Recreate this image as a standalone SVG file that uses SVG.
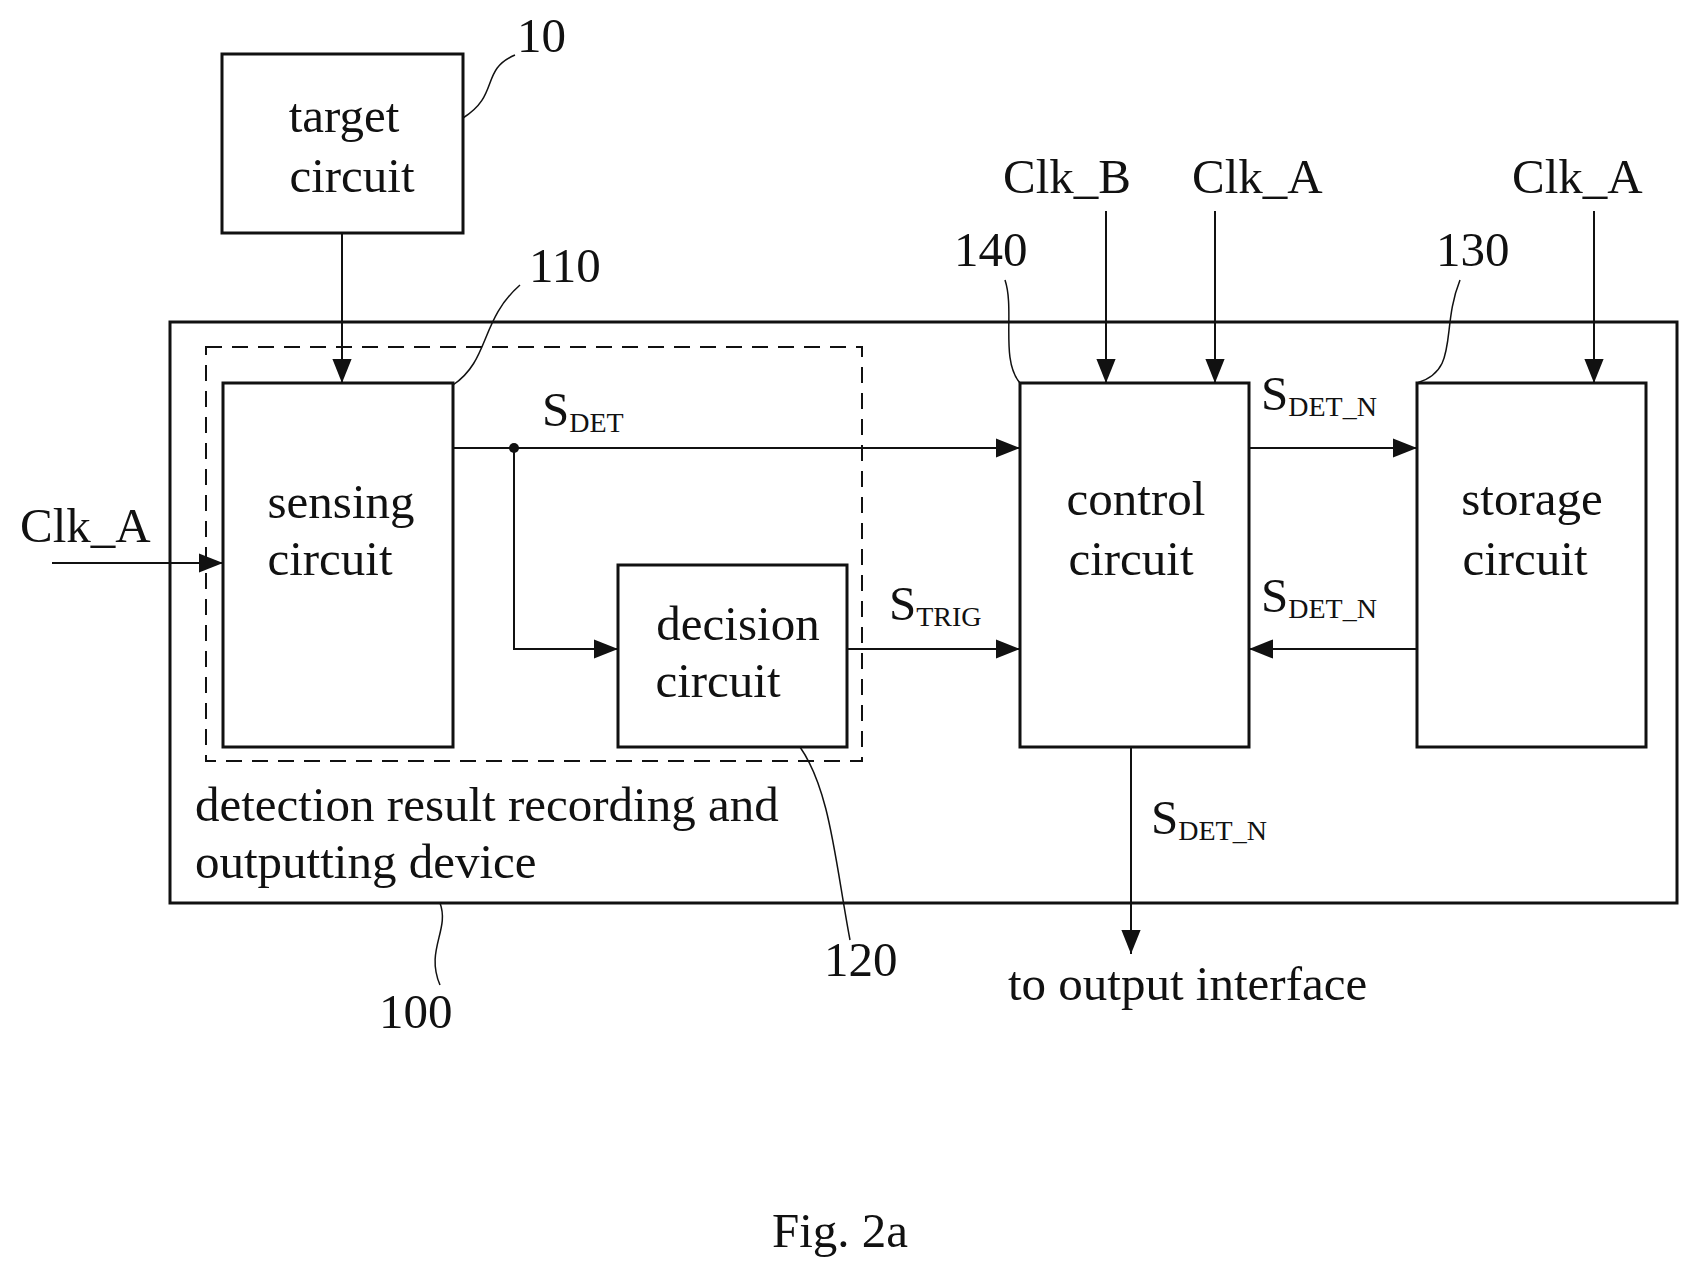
<svg xmlns="http://www.w3.org/2000/svg" width="1691" height="1277" viewBox="0 0 1691 1277">
<style>
text{font-family:"Liberation Serif",serif;font-size:49px;fill:#111}
.sub{font-size:28px}
.box{fill:none;stroke:#111;stroke-width:3}
.ln{fill:none;stroke:#111;stroke-width:2}
.ld{fill:none;stroke:#111;stroke-width:1.5}
</style>
<defs><marker id="b" viewBox="0 0 10 10" refX="10" refY="5" markerWidth="24" markerHeight="24" markerUnits="userSpaceOnUse" orient="auto"><path d="M0,1L10,5L0,9z" fill="#111"/></marker></defs>
<g id="outer"><rect class="box" x="170" y="322" width="1507" height="581"/><text x="195" y="821">detection result recording and</text><text x="195" y="878">outputting device</text></g>
<g id="dashed"><rect x="206" y="347" width="656" height="414" fill="none" stroke="#111" stroke-width="2" stroke-dasharray="16,10"/></g>
<g id="target"><rect class="box" x="222" y="54" width="241" height="179"/><text x="344" y="132" text-anchor="middle">target</text><text x="352" y="192" text-anchor="middle">circuit</text></g>
<g id="sensing"><rect class="box" x="223" y="383" width="230" height="364"/><text x="341" y="518" text-anchor="middle">sensing</text><text x="330" y="575" text-anchor="middle">circuit</text></g>
<g id="decision"><rect class="box" x="618" y="565" width="229" height="182"/><text x="738" y="640" text-anchor="middle">decision</text><text x="718" y="697" text-anchor="middle">circuit</text></g>
<g id="control"><rect class="box" x="1020" y="383" width="229" height="364"/><text x="1136" y="515" text-anchor="middle">control</text><text x="1131" y="575" text-anchor="middle">circuit</text></g>
<g id="storage"><rect class="box" x="1417" y="383" width="229" height="364"/><text x="1532" y="515" text-anchor="middle">storage</text><text x="1525" y="575" text-anchor="middle">circuit</text></g>
<g id="connectors">
<path class="ln" d="M342,233V383" marker-end="url(#b)"/>
<path class="ln" d="M52,563H223" marker-end="url(#b)"/>
<path class="ln" d="M453,448H1020" marker-end="url(#b)"/>
<circle cx="514" cy="448" r="5" fill="#111"/>
<path class="ln" d="M514,448V649H618" marker-end="url(#b)"/>
<path class="ln" d="M847,649H1020" marker-end="url(#b)"/>
<path class="ln" d="M1249,448H1417" marker-end="url(#b)"/>
<path class="ln" d="M1417,649H1249" marker-end="url(#b)"/>
<path class="ln" d="M1106,211V383" marker-end="url(#b)"/>
<path class="ln" d="M1215,211V383" marker-end="url(#b)"/>
<path class="ln" d="M1594,211V383" marker-end="url(#b)"/>
<path class="ln" d="M1131,747V954" marker-end="url(#b)"/>
<path class="ld" d="M463,118C500,95 480,70 515,55"/>
<path class="ld" d="M453,385C490,360 480,320 520,285"/>
<path class="ld" d="M1020,383C1000,360 1015,310 1005,280"/>
<path class="ld" d="M1417,383C1460,370 1440,330 1460,280"/>
<path class="ld" d="M800,747C830,790 835,860 850,940"/>
<path class="ld" d="M440,903C450,930 425,950 440,985"/>
</g>
<g id="labels">
<text x="517" y="52">10</text>
<text x="529" y="282">110</text>
<text x="954" y="266">140</text>
<text x="1436" y="266">130</text>
<text x="824" y="976">120</text>
<text x="379" y="1028">100</text>
<text x="20" y="542">Clk_A</text>
<text x="1003" y="193">Clk_B</text>
<text x="1192" y="193">Clk_A</text>
<text x="1512" y="193">Clk_A</text>
<text x="542" y="426">S<tspan class="sub" dy="6">DET</tspan></text>
<text x="1261" y="410">S<tspan class="sub" dy="6">DET_N</tspan></text>
<text x="1261" y="612">S<tspan class="sub" dy="6">DET_N</tspan></text>
<text x="889" y="620">S<tspan class="sub" dy="6">TRIG</tspan></text>
<text x="1151" y="834">S<tspan class="sub" dy="6">DET_N</tspan></text>
<text x="1008" y="1000">to output interface</text>
<text x="840" y="1247" text-anchor="middle">Fig. 2a</text>
</g>
</svg>
